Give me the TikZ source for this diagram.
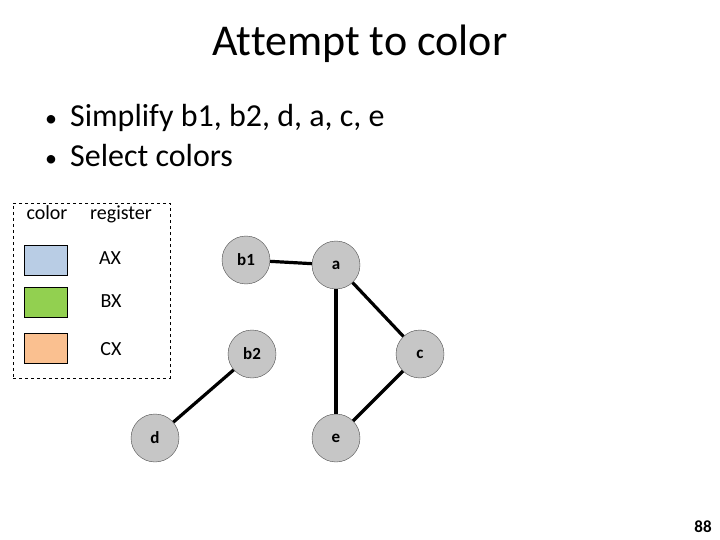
\documentclass[tikz,border=0pt]{standalone}
\usepackage{fontspec}
\setmainfont[Ligatures=NoCommon]{Carlito}
\begin{document}
\begin{tikzpicture}[x=1pt,y=-1pt,
  vnode/.style={circle,draw=black!70,fill=gray!45,minimum size=48pt,inner sep=0pt,font=\fontsize{17}{19}\selectfont\bfseries},
  edge/.style={line width=3.2pt},
  swatch/.style={draw=black,minimum width=43pt,minimum height=30pt,inner sep=0pt},
  legtext/.style={font=\fontsize{20}{23}\selectfont,inner sep=0pt}]
\useasboundingbox (0,0) rectangle (720,540);
\definecolor{swblue}{HTML}{B9CDE5}
\definecolor{swgreen}{HTML}{92D050}
\definecolor{sworange}{HTML}{FAC090}
\node[font=\fontsize{44}{50}\selectfont,inner sep=0pt,anchor=base] (title) at (360,56) {Attempt to color};
\node[anchor=base west,font=\fontsize{32}{36}\selectfont,inner sep=0pt] (l1) at (45,127) {{\fontsize{24}{28}\selectfont•}\hspace{13pt}Simplify b1, b2, d, a, c, e};
\node[anchor=base west,font=\fontsize{32}{36}\selectfont,inner sep=0pt] (l2) at (45,167) {{\fontsize{24}{28}\selectfont•}\hspace{13pt}Select colors};
\node[draw=black,dashed,minimum width=157pt,minimum height=175pt,inner sep=0pt] (leg) at (91.5,290.5) {};
\node[legtext,anchor=base] (hc) at (47,220) {color};
\node[legtext,anchor=base] (hr) at (121,220) {register};
\node[swatch,fill=swblue] (s1) at (45.5,260) {};
\node[swatch,fill=swgreen] (s2) at (45.5,302) {};
\node[swatch,fill=sworange] (s3) at (45.5,348) {};
\node[legtext] (ax) at (110,258) {AX};
\node[legtext] (bx) at (111,301) {BX};
\node[legtext] (cx) at (111,349) {CX};
\node[vnode] (b1) at (246,260) {b1};
\node[vnode] (a) at (336,265) {a};
\node[vnode] (b2) at (252,354) {b2};
\node[vnode] (c) at (420,354) {c};
\node[vnode] (e) at (336,438) {e};
\node[vnode] (d) at (155,438) {d};
\draw[edge] (b1) -- (a);
\draw[edge] (a) -- (e);
\draw[edge] (a) -- (c);
\draw[edge] (c) -- (e);
\draw[edge] (b2) -- (d);
\node[font=\fontsize{17}{19}\selectfont\bfseries,inner sep=0pt] (num) at (703,527) {88};
\end{tikzpicture}
\end{document}
